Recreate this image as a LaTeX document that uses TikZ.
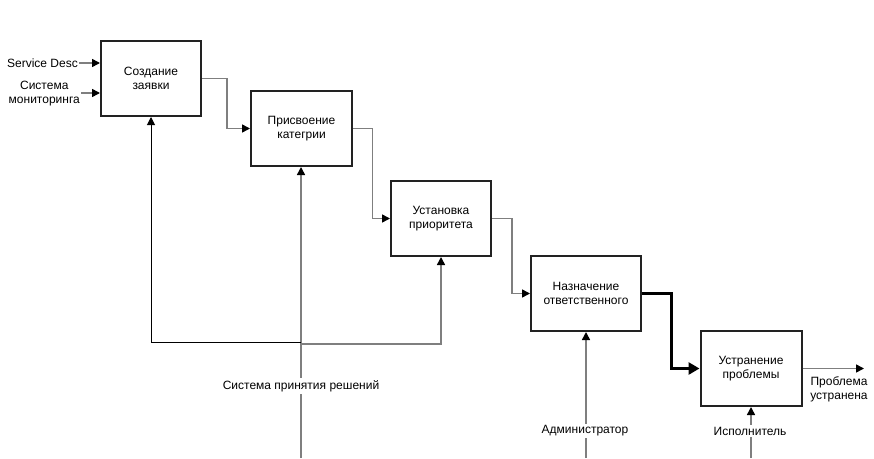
\documentclass[tikz,border=0pt]{standalone}
\usepackage{fontspec}
\setmainfont{Liberation Sans}
\usetikzlibrary{arrows.meta}
\definecolor{conngray}{HTML}{7F7F7F}
\definecolor{boxdark}{HTML}{222222}
\tikzset{
  proc/.style={draw=boxdark, line width=2pt, fill=white, minimum width=100pt, minimum height=75pt, inner sep=0pt, align=center, font=\fontsize{12}{14}\selectfont},
  conn/.style={draw=conngray, line width=1.5pt, -{Triangle[length=8pt,width=8pt,color=black]}},
  lbl/.style={font=\fontsize{12}{14}\selectfont, align=center, inner sep=1pt},
  lblw/.style={lbl, fill=white, inner sep=2pt},
  thickconn/.style={draw=black, line width=3pt, -{Triangle[length=11pt,width=12pt]}},
}
\begin{document}
\begin{tikzpicture}[x=1pt,y=-1pt]
\useasboundingbox (0,0) rectangle (874,458);
% boxes
\node[proc] (b1) at (151,78.5) {Создание\\заявки};
\node[proc, minimum width=101pt] (b2) at (301.5,128.5) {Присвоение\\категрии};
\node[proc] (b3) at (441,218.5) {Установка\\приоритета};
\node[proc, minimum width=110pt] (b4) at (586,293.5) {Назначение\\ответственного};
\node[proc, minimum width=101pt] (b5) at (751,368.5) {Устранение\\проблемы};
% inputs
\node[lbl, anchor=east] (sd) at (79,63) {Service Desc};
\node[lbl, anchor=east] (mon) at (81,94) {Система\\мониторинга};
\draw[conn] (sd.east) -- (b1.west |- sd.east);
\draw[conn] (mon.east |- 0,93) -- (b1.west |- 0,93);
% flow between boxes
\draw[conn] (b1.east) -- ++(25,0) |- (b2.west);
\draw[conn] (b2.east) -- ++(19.5,0) |- (b3.west);
\draw[conn] (b3.east) -- ++(20,0) |- (b4.west);
\draw[thickconn] (b4.east) -- ++(29,0) |- (b5.west);
% output
\coordinate (out) at (864,368.5);
\draw[conn] (b5.east) -- (out);
\node[lbl] (res) at (839,389.5) {Проблема\\устранена};
% mechanisms
\coordinate (srcS) at (301,458);
\coordinate (jL) at (301,342);
\coordinate (jR) at (301,344);
\draw[conn] (srcS) -- (b2.south -| srcS);
\draw[draw=black, line width=1pt, -{Triangle[length=8pt,width=8pt]}] (jL) -| (b1.south);
\draw[conn] (jR) -| (b3.south);
\node[lblw] (dss) at (301,386) {Система принятия решений};
\coordinate (srcA) at (586,458);
\draw[conn] (srcA) -- (b4.south);
\node[lblw] (adm) at (585,431) {Администратор};
\coordinate (srcI) at (751,458);
\draw[conn] (srcI) -- (b5.south -| srcI);
\node[lblw] (isp) at (750,431) {Исполнитель};
\end{tikzpicture}
\end{document}
